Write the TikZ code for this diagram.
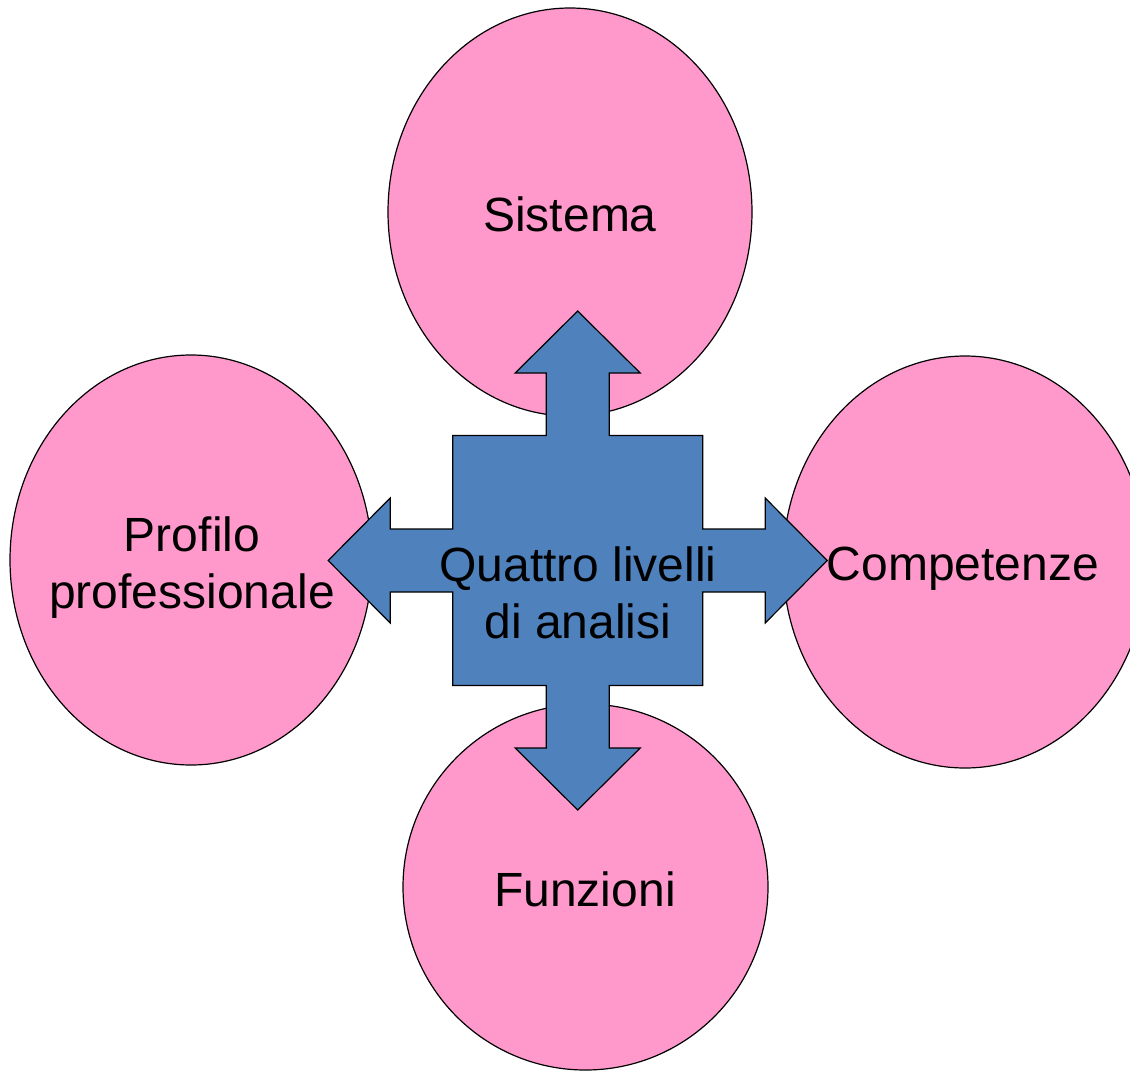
\documentclass[tikz,border=0pt]{standalone}
\usepackage{fontspec}
\setmainfont{Liberation Sans}
\usetikzlibrary{shapes.geometric}
\definecolor{blobpink}{HTML}{FF99CC}
\definecolor{quadblue}{HTML}{4F81BD}

\begin{document}
\begin{tikzpicture}
  [x=1pt, y=-1pt,
   blob/.style={ellipse, draw=black, fill=blobpink, line width=1.2pt, inner sep=0pt},
   word/.style={align=center, inner sep=0pt, font=\fontsize{48}{57}\selectfont},
   quad/.style={draw=black, fill=quadblue, line width=1.2pt}]
  \clip (0,0) rectangle (1130,1071);
  \node (sis) at (570, 212) [blob, minimum width=364pt, minimum height=408pt] {};
  \node (pro) at (191, 560) [blob, minimum width=362pt, minimum height=410pt] {};
  \node (com) at (965, 562) [blob, minimum width=364pt, minimum height=412pt] {};
  \node (fun) at (585.5, 887) [blob, minimum width=365pt, minimum height=366pt] {};
  \node (sist) at (570, 214) [word] {Sistema};
  \node (prot) at (192, 568) [word] {Profilo\\professionale};
  \node (comt) at (963, 569) [word] {Competenze};
  \node (funt) at (585, 889) [word] {Funzioni};
  \begin{scope}[shift={(577.7, 560.5)}]
    \draw [quad] (125,-125) -- (125,-31.5) -- (187.5,-31.5) -- (187.5,-62.5) -- (249.5,0)
      -- (187.5,62.5) -- (187.5,31.5) -- (125,31.5) -- (125,125)
      -- (31.5,125) -- (31.5,187.5) -- (62.5,187.5) -- (0,249.5) -- (-62.5,187.5)
      -- (-31.5,187.5) -- (-31.5,125) -- (-125,125)
      -- (-125,31.5) -- (-187.5,31.5) -- (-187.5,62.5) -- (-249.5,0) -- (-187.5,-62.5)
      -- (-187.5,-31.5) -- (-125,-31.5) -- (-125,-125)
      -- (-31.5,-125) -- (-31.5,-187.5) -- (-62.5,-187.5) -- (0,-249.5) -- (62.5,-187.5)
      -- (31.5,-187.5) -- (31.5,-125) -- cycle;
  \end{scope}
  \node (qa) at (578, 593) [word] {Quattro livelli\\di analisi};
\end{tikzpicture}
\end{document}
